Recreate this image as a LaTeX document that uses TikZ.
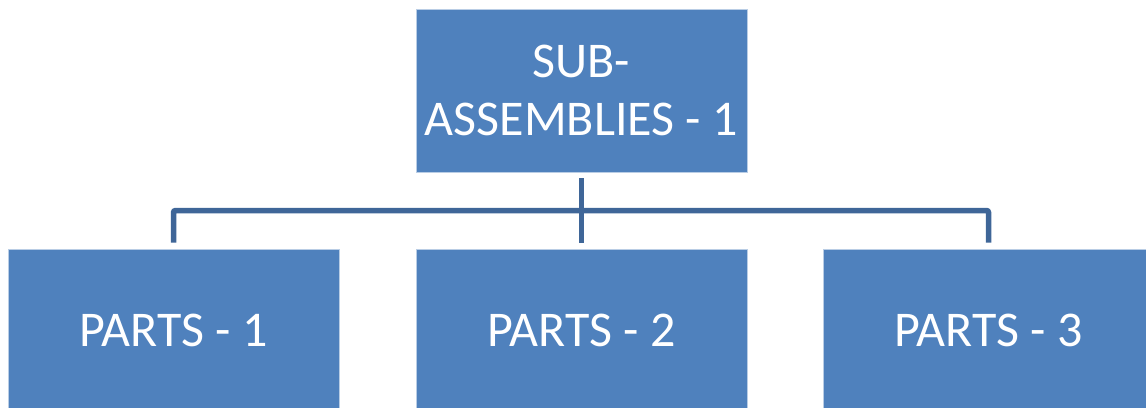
\documentclass[tikz,border=0pt]{standalone}
\usepackage{fontspec}
\setmainfont{Carlito}
\definecolor{boxblue}{HTML}{4F81BD}
\definecolor{boxedge}{HTML}{B9CDE5}
\definecolor{linkblue}{HTML}{3F6698}
\tikzset{
  box/.style={rectangle, fill=boxblue, draw=boxedge, line width=0.8pt,
    minimum width=331pt, minimum height=163pt, inner sep=0pt,
    text=white, align=center, font=\fontsize{50}{58}\selectfont},
  conn/.style={draw=linkblue, line width=5.5pt, rounded corners=2pt}
}
\begin{document}
\begin{tikzpicture}[x=1pt,y=-1pt]
\useasboundingbox (0,0) rectangle (1146,407);
\clip (0,0) rectangle (1146,407);
\node[box] (sa) at (581.5,90.5) {SUB-\\ASSEMBLIES - 1};
\node[box] (p1) at (173.5,330.5) {PARTS - 1};
\node[box] (p2) at (581.5,330.5) {PARTS - 2};
\node[box] (p3) at (988.5,330.5) {PARTS - 3};
\coordinate (bus) at (581.5,210.5);
\draw[conn] ([yshift=-6pt]sa.south) -- ([yshift=6pt]p2.north);
\draw[conn] ([yshift=6pt]p1.north) |- (bus) -| ([yshift=6pt]p3.north);
\end{tikzpicture}
\end{document}
